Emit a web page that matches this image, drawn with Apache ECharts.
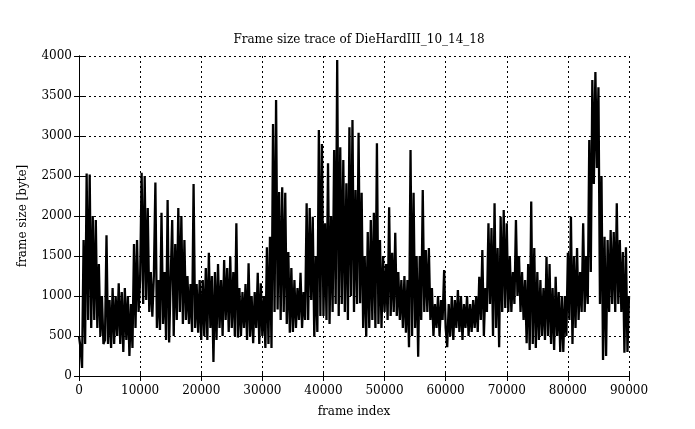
<!DOCTYPE html>
<html><head><meta charset="utf-8">
<script src="https://cdn.jsdelivr.net/npm/echarts@6/dist/echarts.min.js"></script>
<style>html,body{margin:0;padding:0;background:#fff}#c{width:695px;height:429px}</style>
</head><body><div id="c"></div>
<script>
const TITLE = 'Frame size trace of DieHardIII_10_14_18';
const X_NAME = 'frame index';
const Y_NAME = 'frame size [byte]';
const FRAME_STEP = 250; // frames between consecutive samples below
// frame sizes [byte], 250-frame spacing
const sizes_00k = [500,350,100,1700,400,2530,700,2520,600,2000,700,1950,600,1400,500,1000,400,450,1760,400,950,350,1100,400,1000,500,1160,400,1050,300,1100,450,1000,250,900,350,1650,600,1700,800];
const sizes_10k = [1200,2540,900,2500,950,2100,800,1300,740,1250,2420,600,1200,575,2040,650,1300,450,2200,420,1200,1950,500,1650,700,2100,800,2000,650,1700,700,1250,650,1150,550,2400,600,1150,540,1200];
const sizes_20k = [450,1200,500,1350,450,1540,600,1250,175,1300,450,1400,600,1200,500,1450,700,1350,550,1490,600,1300,500,1910,480,1100,500,1050,600,1150,450,1410,500,1000,410,1050,600,1290,400,1160];
const sizes_30k = [500,1000,350,1610,400,1740,350,3150,800,3450,830,2300,700,2360,800,2290,650,1550,540,1350,550,1200,600,1100,700,1290,600,1050,700,2160,700,2100,950,1990,490,1500,550,3075,750,2900];
const sizes_40k = [750,1910,700,2660,650,2000,800,2825,900,3950,750,2860,900,2700,800,2410,700,3110,1000,3200,800,2325,900,3040,910,2290,600,1500,490,1800,600,1950,700,2040,600,2910,650,1700,600,1500];
const sizes_50k = [800,1400,700,2110,750,1540,800,1790,750,1300,700,1200,600,1250,540,1200,360,2825,500,2290,600,1500,240,1500,700,2325,800,1575,800,1600,700,1100,500,900,600,1000,500,950,700,1325];
const sizes_60k = [600,360,900,500,1000,450,950,600,1075,550,1000,450,900,600,1000,500,900,550,950,600,1000,550,1240,700,1575,500,1100,800,1910,900,1850,500,2160,600,1600,360,1990,800,2075,850];
const sizes_70k = [1910,800,1500,800,1300,900,1950,1000,1500,800,1300,700,1200,410,1400,325,2180,400,1600,350,1300,450,1200,500,1100,450,1490,500,1400,400,1100,325,1240,500,1050,300,1000,300,1000,500];
const sizes_80k = [1540,700,1990,400,1500,600,1600,700,1300,800,1910,800,1500,900,2950,1300,3700,2400,3800,2600,3610,900,2500,200,1740,250,1700,800,1825,900,1800,800,2160,900,1700,800,1550,290,1610,300,1000];
const X_MIN = 0, X_MAX = 90000, X_INTERVAL = 10000;
const Y_MIN = 0, Y_MAX = 4000, Y_INTERVAL = 500;

const sizes = [].concat(sizes_00k, sizes_10k, sizes_20k, sizes_30k, sizes_40k, sizes_50k, sizes_60k, sizes_70k, sizes_80k);
const points = sizes.map((v, i) => [i * FRAME_STEP, v]);

const FONT = 'DejaVu Serif';
const txt = {color: '#000', fontFamily: FONT, fontSize: 12};
const plain = v => String(v);
const dashed = {show: true, lineStyle: {color: '#000', width: 1, type: [2, 3]}};
const line = {show: true, lineStyle: {color: '#000', width: 1}};
const tick = {show: true, inside: true, length: 5, lineStyle: {color: '#000', width: 1}};

const chart = echarts.init(document.getElementById('c'), null, {renderer: 'canvas'});
chart.setOption({
  animation: false,
  backgroundColor: '#fff',
  title: {text: TITLE, left: 354, top: 29, textAlign: 'center',
    textStyle: {color: '#000', fontFamily: FONT, fontSize: 12, fontWeight: 'normal'}},
  grid: {left: 79, top: 56, width: 550, height: 320, containLabel: false},
  xAxis: [
    {type: 'value', min: X_MIN, max: X_MAX, interval: X_INTERVAL, position: 'bottom',
     name: X_NAME, nameLocation: 'middle', nameGap: 30, nameTextStyle: txt,
     axisLine: line, axisTick: tick, axisLabel: Object.assign({margin: 9, formatter: plain}, txt), splitLine: dashed},
    {type: 'value', min: X_MIN, max: X_MAX, interval: X_INTERVAL, position: 'top',
     axisLine: line, axisTick: tick, axisLabel: {show: false}, splitLine: {show: false}}
  ],
  yAxis: [
    {type: 'value', min: Y_MIN, max: Y_MAX, interval: Y_INTERVAL, position: 'left',
     name: Y_NAME, nameLocation: 'middle', nameGap: 50, nameTextStyle: txt,
     axisLine: line, axisTick: tick, axisLabel: Object.assign({margin: 7, formatter: plain}, txt), splitLine: dashed},
    {type: 'value', min: Y_MIN, max: Y_MAX, interval: Y_INTERVAL, position: 'right',
     axisLine: line, axisTick: tick, axisLabel: {show: false}, splitLine: {show: false}}
  ],
  series: [{
    type: 'line', data: points, xAxisIndex: 0, yAxisIndex: 0,
    showSymbol: false, symbol: 'none', sampling: null,
    lineStyle: {color: '#000', width: 2.3, join: 'miter', miterLimit: 2}, z: 3
  }]
});
</script></body></html>
